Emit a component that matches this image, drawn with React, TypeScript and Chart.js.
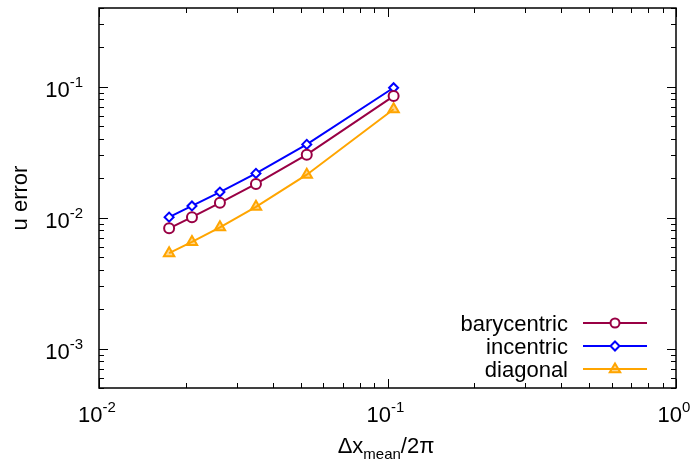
import React, { useEffect, useRef } from "react";
import { Chart, registerables } from "chart.js";

Chart.register(...registerables);

// ---- data ----
const dxValues = [0.0175, 0.021, 0.02625, 0.035, 0.0525, 0.105];
const barycentric = [0.0083, 0.0101, 0.013, 0.0181, 0.0303, 0.0849];
const incentric = [0.0101, 0.0123, 0.0157, 0.0218, 0.0363, 0.0983];
const diagonal = [0.00536, 0.00653, 0.00845, 0.0121, 0.0213, 0.0673];

const seriesNames = ["barycentric", "incentric", "diagonal"];
const seriesColors = ["#990044", "#0000ff", "#ffa500"];
const seriesMarkers = ["circle", "rectRot", "triangle"];

const xMin = 0.01;
const xMax = 1;
const yMin = 5e-4;
const yMax = 0.4;

const xMajorTicks = [0.01, 0.1, 1];
const xTickExps = ["-2", "-1", "0"];
const yMajorTicks = [0.001, 0.01, 0.1];
const yTickExps = ["-3", "-2", "-1"];

const xTitle = { main: "\u0394x", sub: "mean", rest: "/2\u03c0" };
const yTitle = "u error";

const FONT = "'Liberation Sans', Arial, Helvetica, sans-serif";

function minorTicks(min: number, max: number): number[] {
  const out: number[] = [];
  for (let e = Math.floor(Math.log10(min)); e <= Math.ceil(Math.log10(max)); e++) {
    for (let m = 2; m <= 9; m++) {
      const v = m * Math.pow(10, e);
      if (v >= min * 0.999 && v <= max * 1.001) out.push(v);
    }
  }
  return out;
}

function drawMarker(ctx: CanvasRenderingContext2D, style: string, x: number, y: number, color: string) {
  ctx.save();
  ctx.strokeStyle = color;
  ctx.lineWidth = 2;
  ctx.beginPath();
  if (style === "circle") {
    ctx.fillStyle = "#ffffff";
    ctx.arc(x, y, 4.5, 0, Math.PI * 2);
    ctx.fill();
  } else if (style === "rectRot") {
    ctx.fillStyle = "#ffffff";
    const r = 4.5;
    ctx.moveTo(x, y - r);
    ctx.lineTo(x + r, y);
    ctx.lineTo(x, y + r);
    ctx.lineTo(x - r, y);
    ctx.closePath();
    ctx.fill();
  } else {
    ctx.fillStyle = "rgba(255,165,0,0.45)";
    const r = 5.5;
    ctx.moveTo(x, y - r);
    ctx.lineTo(x + r * 0.95, y + r * 0.6);
    ctx.lineTo(x - r * 0.95, y + r * 0.6);
    ctx.closePath();
    ctx.fill();
  }
  ctx.stroke();
  ctx.restore();
}

const gnuplotAxes = {
  id: "gnuplotAxes",
  afterDraw(chart: any) {
    const ctx: CanvasRenderingContext2D = chart.ctx;
    const { left, right, top, bottom } = chart.chartArea;
    const xs = chart.scales.x;
    const ys = chart.scales.y;
    ctx.save();
    ctx.strokeStyle = "#000";
    ctx.lineWidth = 1.5;
    ctx.strokeRect(left, top, right - left, bottom - top);

    ctx.lineWidth = 1;
    const tick = (x1: number, y1: number, x2: number, y2: number) => {
      ctx.beginPath();
      ctx.moveTo(x1, y1);
      ctx.lineTo(x2, y2);
      ctx.stroke();
    };
    const MAJ = 9;
    const MIN = 5;
    xMajorTicks.forEach((v) => {
      const px = Math.round(xs.getPixelForValue(v)) + 0.5;
      tick(px, bottom, px, bottom - MAJ);
      tick(px, top, px, top + MAJ);
    });
    minorTicks(xMin, xMax).forEach((v) => {
      const px = Math.round(xs.getPixelForValue(v)) + 0.5;
      tick(px, bottom, px, bottom - MIN);
      tick(px, top, px, top + MIN);
    });
    yMajorTicks.forEach((v) => {
      const py = Math.round(ys.getPixelForValue(v)) + 0.5;
      tick(left, py, left + MAJ, py);
      tick(right, py, right - MAJ, py);
    });
    minorTicks(yMin, yMax).forEach((v) => {
      const py = Math.round(ys.getPixelForValue(v)) + 0.5;
      tick(left, py, left + MIN, py);
      tick(right, py, right - MIN, py);
    });

    // tick labels
    ctx.fillStyle = "#000";
    ctx.textBaseline = "alphabetic";
    const big = `22px ${FONT}`;
    const small = `15px ${FONT}`;
    const drawPow = (xLeft: number, baseY: number, exp: string) => {
      ctx.font = big;
      ctx.textAlign = "left";
      ctx.fillText("10", xLeft, baseY);
      const w = ctx.measureText("10").width;
      ctx.font = small;
      ctx.fillText(exp, xLeft + w, baseY - 10);
    };
    const powWidth = (exp: string) => {
      ctx.font = big;
      const w = ctx.measureText("10").width;
      ctx.font = small;
      return w + ctx.measureText(exp).width;
    };
    yMajorTicks.forEach((v, i) => {
      const py = ys.getPixelForValue(v);
      const w = powWidth(yTickExps[i]);
      drawPow(83 - w, py + 10, yTickExps[i]);
    });
    xMajorTicks.forEach((v, i) => {
      const px = xs.getPixelForValue(v);
      const w = powWidth(xTickExps[i]);
      drawPow(px - w / 2 - 2, 422, xTickExps[i]);
    });

    // x title
    ctx.font = big;
    const w1 = ctx.measureText(xTitle.main).width;
    ctx.font = small;
    const w2 = ctx.measureText(xTitle.sub).width;
    ctx.font = big;
    const w3 = ctx.measureText(xTitle.rest).width;
    const total = w1 + w2 + w3;
    let tx = 386 - total / 2;
    ctx.textAlign = "left";
    ctx.font = big;
    ctx.fillText(xTitle.main, tx, 453);
    tx += w1;
    ctx.font = small;
    ctx.fillText(xTitle.sub, tx, 459);
    tx += w2;
    ctx.font = big;
    ctx.fillText(xTitle.rest, tx, 453);

    // y title
    ctx.save();
    ctx.translate(21, 198);
    ctx.rotate(-Math.PI / 2);
    ctx.textAlign = "center";
    ctx.textBaseline = "middle";
    ctx.font = big;
    ctx.fillText(yTitle, 0, 0);
    ctx.restore();

    // legend
    const rows = [323, 346, 369];
    seriesNames.forEach((name, i) => {
      const y = rows[i];
      ctx.font = big;
      ctx.textAlign = "right";
      ctx.textBaseline = "alphabetic";
      ctx.fillStyle = "#000";
      ctx.fillText(name, 568, y + 8);
      ctx.strokeStyle = seriesColors[i];
      ctx.lineWidth = 2;
      tick(583, y, 647, y);
      drawMarker(ctx, seriesMarkers[i], 615, y, seriesColors[i]);
    });
    ctx.restore();
  },
};

export default function App() {
  const ref = useRef<HTMLCanvasElement | null>(null);
  useEffect(() => {
    if (!ref.current) return;
    const mk = (label: string, data: number[], i: number) => ({
      label,
      data: dxValues.map((x, k) => ({ x, y: data[k] })),
      borderColor: seriesColors[i],
      backgroundColor: i === 2 ? "rgba(255,165,0,0.45)" : "#ffffff",
      borderWidth: 2,
      pointStyle: seriesMarkers[i] as any,
      pointRadius: i === 0 ? 5 : i === 1 ? 4.5 : 6,
      pointBorderWidth: 2,
      tension: 0,
    });
    const chart = new Chart(ref.current, {
      type: "line",
      data: {
        datasets: [
          mk(seriesNames[0], barycentric, 0),
          mk(seriesNames[1], incentric, 1),
          mk(seriesNames[2], diagonal, 2),
        ],
      },
      options: {
        animation: false,
        responsive: false,
        maintainAspectRatio: false,
        layout: { padding: { left: 99, top: 7, right: 18, bottom: 77 } },
        plugins: { legend: { display: false }, tooltip: { enabled: false } },
        scales: {
          x: { type: "logarithmic", min: xMin, max: xMax, display: false },
          y: { type: "logarithmic", min: yMin, max: yMax, display: false },
        },
      },
      plugins: [gnuplotAxes],
    });
    return () => chart.destroy();
  }, []);
  return (
    <div style={{ position: "fixed", left: 0, top: 0, width: 694, height: 465, background: "#fff" }}>
      <canvas ref={ref} width={694} height={465} style={{ width: 694, height: 465 }} />
    </div>
  );
}
